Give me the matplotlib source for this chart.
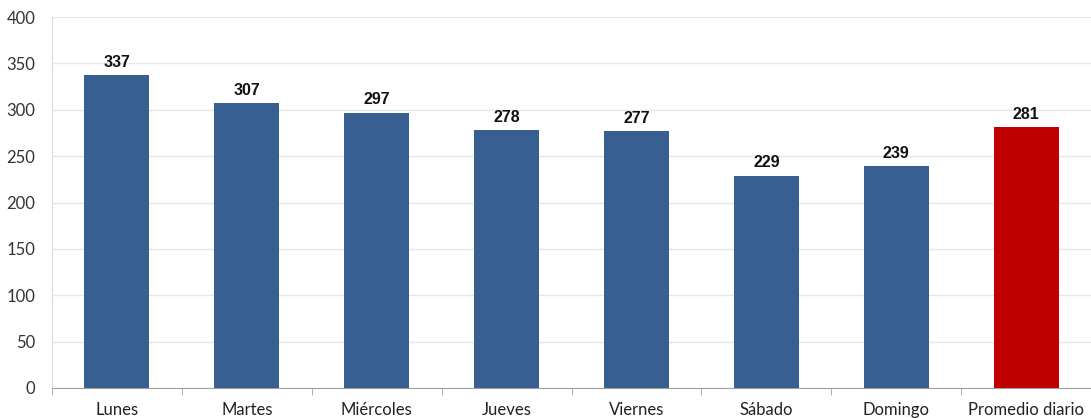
import matplotlib
matplotlib.use("Agg")
import matplotlib.pyplot as plt
import numpy as np

categories = ["Lunes", "Martes", "Miércoles", "Jueves", "Viernes", "Sábado", "Domingo", "Promedio diario"]
values = [337, 307, 297, 278, 277, 229, 239, 281]
colors = ["#375F91"] * 7 + ["#C00000"]
y_ticks = [0, 50, 100, 150, 200, 250, 300, 350, 400]

plt.rcParams['font.family'] = ['Lato', 'DejaVu Sans']

fig = plt.figure(figsize=(10.91, 4.18), dpi=100)
ax = fig.add_axes([52 / 1091, 1 - 388 / 418, 1 - 52 / 1091, (388 - 17) / 418])

x = np.arange(len(categories))
ax.bar(x, values, width=0.5, color=colors, zorder=3)

for xi, v in zip(x, values):
    ax.text(xi, v + 6, str(v), ha='center', va='bottom', fontsize=11.5,
            fontweight='bold', family=['Liberation Sans', 'DejaVu Sans'], color='#111111')

ax.set_xlim(-0.5, len(categories) - 0.5)
ax.set_ylim(0, 400)
ax.set_yticks(y_ticks)
ax.yaxis.grid(True, color='#E6E6E6', linewidth=1, zorder=0)
ax.set_xticks(x)
ax.set_xticklabels(categories, fontsize=12, color='#222222')
ax.set_xticks(np.arange(-0.5, len(categories)), minor=True)
ax.tick_params(axis='x', which='major', length=0, pad=10)
ax.tick_params(axis='x', which='minor', length=5, color='#A0A0A0')
ax.tick_params(axis='y', length=0, labelsize=12, labelcolor='#333333', pad=12)

for s in ['top', 'right']:
    ax.spines[s].set_visible(False)
ax.spines['left'].set_color('#D9D9D9')
ax.spines['bottom'].set_color('#A0A0A0')

fig.savefig("out.png", dpi=100)
